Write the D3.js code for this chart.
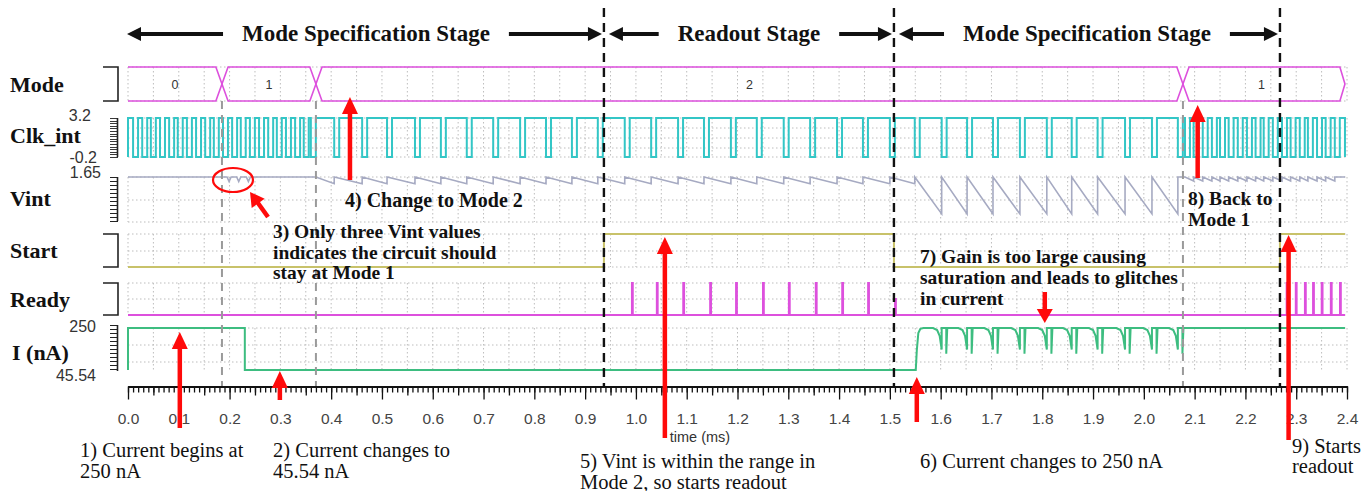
<!DOCTYPE html>
<html><head><meta charset="utf-8">
<script src="https://cdn.jsdelivr.net/npm/d3@7"></script>
<style>body{margin:0;background:#fff}svg{display:block}</style>
</head><body>
<svg id="c" width="1370" height="491"></svg>
<script>
// ---------------- DATA ----------------
const tickValues = [0.0,0.1,0.2,0.3,0.4,0.5,0.6,0.7,0.8,0.9,1.0,1.1,1.2,1.3,1.4,1.5,1.6,1.7,1.8,1.9,2.0,2.1,2.2,2.3,2.4];
const tickLabels = ["0.0","0.1","0.2","0.3","0.4","0.5","0.6","0.7","0.8","0.9","1.0","1.1","1.2","1.3","1.4","1.5","1.6","1.7","1.8","1.9","2.0","2.1","2.2","2.3","2.4"];
const signalNames = ["Mode","Clk_int","Vint","Start","Ready","I (nA)"];
const traceEnd = 2.396;

// Mode bus
const modeValues = ["0","1","2","1"];
const modeBounds = [0, 0.185, 0.370, 2.077, 2.386];

// Clk_int (V): range and low-pulse start times (ms)
const clkRange = [-0.2, 3.2];
const clkLowWidth = 0.0098;
const clkFast1Lows = [0.010,0.028,0.045,0.063,0.081,0.098,0.116,0.134,0.152,0.169,0.187,0.205,0.222,0.240,0.258,0.276,0.293,0.311,0.329,0.346,0.360];
const clkSlowLows = [0.406,0.461,0.510,0.565,0.616,0.667,0.719,0.772,0.823,0.874,0.925,0.978,1.030,1.083,1.134,1.187,1.238,1.291,1.343,1.396,1.447,1.500,1.549,1.602,1.652,1.703,1.756,1.809,1.858,1.909,1.963,2.016,2.067];
const clkFast2Lows = [2.081,2.098,2.116,2.134,2.150,2.167,2.185,2.203,2.220,2.236,2.254,2.272,2.289,2.307,2.323,2.341,2.358,2.376];

// Vint (V)
const vintTop = 1.65;
const vintRange = [1.40, 1.65];
const vintMode1Dips = [0.195, 0.214, 0.233];
const vintDipMin = 1.625;
const vintSmallResets = [0.406,0.461,0.510,0.565,0.616,0.667,0.719,0.772,0.823,0.874,0.925,0.978,1.030,1.083,1.134,1.187,1.238,1.291,1.343,1.396,1.447,1.500,1.549];
const vintSmallMin = 1.613;
const vintBigResets = [1.602,1.652,1.703,1.756,1.809,1.858,1.909,1.963,2.016,2.067];
const vintBigMin = 1.445;
const vintFastResets = [2.098,2.116,2.134,2.150,2.167,2.185,2.203,2.220,2.236,2.254,2.272,2.289,2.307,2.323,2.341,2.358,2.376];
const vintFastMin = 1.628;

// Start (logic) edges: [time, level]
const startEdges = [[0,0],[0.937,1],[1.508,0],[2.268,1]];

// Ready pulses: [time, level]
const readyPulses = [[0.992,1],[1.041,1],[1.093,1],[1.146,1],[1.197,1],[1.250,1],[1.301,1],[1.354,1],[1.406,1],[1.457,1],[1.510,0.5],
  [2.281,1],[2.299,1],[2.317,1],[2.333,1],[2.350,1],[2.368,1],[2.386,1]];
const readyPulseWidth = 0.002;

// I (nA)
const iRange = [45.54, 250];
const iSteps = [[0,45.54],[0,250],[0.230,250],[0.230,45.54],[1.551,45.54],[1.553,140],[1.556,225],[1.560,246],[1.566,250]];
const iGlitchTimes = [1.602,1.652,1.703,1.756,1.809,1.858,1.909,1.963,2.016,2.067];
const iGlitchShape = [[-0.017,250],[-0.009,240],[-0.004,212],[0,145],[0,250],[0.009,250],[0.009,125],[0.011,250]];

// stage labels
const stageBounds = [0, 0.937, 1.508, 2.268];
const stageNames = ["Mode Specification Stage","Readout Stage","Mode Specification Stage"];
const blackDash = [0.937, 1.508, 2.268];
const greyDash = [0.185, 0.370, 2.077];

// ---------------- DRAW ----------------
const svg = d3.select("#c");
const x = d3.scaleLinear().domain([0, 2.4]).range([128, 1347]);
const rows = {
  mode:{top:67,bot:101,h:[67,101]},
  clk:{top:118,bot:157,h:[118,128,138,148,157]},
  vint:{top:177,bot:222,h:[177,200,222]},
  start:{top:234,bot:267,h:[234,251,267]},
  ready:{top:283,bot:315,h:[283,299,315]},
  cur:{top:328,bot:370,h:[328,345,362]}
};
const yClk = d3.scaleLinear().domain(clkRange).range([rows.clk.bot, rows.clk.top]);
const yVint = d3.scaleLinear().domain(vintRange).range([rows.vint.bot, rows.vint.top]);
const yStart = d3.scaleLinear().domain([0,1]).range([rows.start.bot, rows.start.top]);
const yReady = d3.scaleLinear().domain([0,1]).range([rows.ready.bot, rows.ready.top]);
const yI = d3.scaleLinear().domain(iRange).range([rows.cur.bot, rows.cur.top]);

// grid
const gridG = svg.append("g").attr("stroke","#bdbdbd").attr("stroke-width",1).attr("stroke-dasharray","1.5,2.5");
const gridT = d3.range(0, 2.4001, 0.05);
Object.values(rows).forEach(r=>{
  gridG.selectAll(null).data(gridT).enter().append("line")
    .attr("x1",d=>x(d)).attr("x2",d=>x(d)).attr("y1",r.top).attr("y2",r.bot);
  gridG.selectAll(null).data(r.h).enter().append("line")
    .attr("x1",x(0)).attr("x2",x(2.4)).attr("y1",d=>d).attr("y2",d=>d);
});

// left brackets / rulers
const lg = svg.append("g").attr("stroke","#222").attr("stroke-width",1.6).attr("fill","none");
[rows.mode, rows.start, rows.ready].forEach(r=>{
  lg.append("path").attr("d",`M103,${r.top}H118V${r.bot}H103`);
});
function ruler(r, step, sw){
  lg.append("line").attr("x1",117.5).attr("x2",117.5).attr("y1",r.top).attr("y2",r.bot);
  lg.selectAll(null).data(d3.range(r.top, r.bot+0.1, step)).enter().append("line")
    .attr("x1",110).attr("x2",118).attr("y1",d=>Math.round(d)+0.5).attr("y2",d=>Math.round(d)+0.5).attr("stroke-width",sw);
}
ruler(rows.clk, 2.6, 0.9);
ruler({top:177,bot:221}, 4, 1);
ruler({top:325,bot:371}, 4, 1);

// left signal labels
const labY = [92,143,206,258,307,360];
svg.append("g").selectAll("text").data(signalNames).enter().append("text")
  .attr("x",(d,i)=> i===5?12:10).attr("y",(d,i)=>labY[i]).text(d=>d)
  .attr("font-family","Liberation Serif").attr("font-weight","bold").attr("font-size",22).attr("fill","#111");

// y value labels
const yl = svg.append("g").attr("font-family","Liberation Sans").attr("font-size",16).attr("fill","#333").attr("text-anchor","end");
yl.append("text").attr("x",91).attr("y",yClk(clkRange[1])+3).text(clkRange[1].toString());
yl.append("text").attr("x",97).attr("y",yClk(clkRange[0])+6).text(clkRange[0].toString());
yl.append("text").attr("x",101).attr("y",yVint(vintTop)+1).text(vintTop.toString());
yl.append("text").attr("x",96).attr("y",yI(iRange[1])+4).text(iRange[1].toString());
yl.append("text").attr("x",96).attr("y",yI(iRange[0])+11).text(iRange[0].toString());

// Mode bus
const mid = (rows.mode.top+rows.mode.bot)/2, hw = 0.012;
const modeG = svg.append("g").attr("stroke","#dd50dd").attr("stroke-width",1.6).attr("fill","none");
modeValues.forEach((v,i)=>{
  const s = modeBounds[i], e = modeBounds[i+1];
  const last = i===modeValues.length-1;
  const ee = last ? e : e-hw, tip = last ? e+0.010 : e;
  let d;
  if(i===0) d = `M${x(s)},${rows.mode.top}H${x(ee)}L${x(tip)},${mid}L${x(ee)},${rows.mode.bot}H${x(s)}`;
  else d = `M${x(s)},${mid}L${x(s+hw)},${rows.mode.top}H${x(ee)}L${x(tip)},${mid}L${x(ee)},${rows.mode.bot}H${x(s+hw)}Z`;
  modeG.append("path").attr("d",d);
  svg.append("text").attr("x",x((s+e)/2)).attr("y",mid+4.5).attr("text-anchor","middle")
    .attr("font-family","Liberation Sans").attr("font-size",12.5).attr("fill","#333").text(v);
});

function trace(pts, y, color, w){
  svg.append("path").attr("d", d3.line().x(d=>x(d[0])).y(d=>y(d[1]))(pts))
    .attr("fill","none").attr("stroke",color).attr("stroke-width",w).attr("stroke-linejoin","miter");
}

// Clk_int
const clkPts = [[0,clkRange[0]],[0,clkRange[1]]];
[...clkFast1Lows, ...clkSlowLows, ...clkFast2Lows].forEach(s=>{
  clkPts.push([s,clkRange[1]],[s,clkRange[0]],[s+clkLowWidth,clkRange[0]],[s+clkLowWidth,clkRange[1]]);
});
clkPts.push([traceEnd,clkRange[1]],[traceEnd,clkRange[0]]);
trace(clkPts, yClk, "#33c6c6", 2);

// Vint
const vPts = [[0,vintTop]];
vintMode1Dips.forEach(d=>{ vPts.push([d,vintTop],[d+0.004,vintDipMin],[d+0.008,vintTop]); });
vPts.push([0.370,vintTop]);
vintSmallResets.forEach(r=>{ vPts.push([r,vintSmallMin],[r,vintTop]); });
vintBigResets.forEach(r=>{ vPts.push([r,vintBigMin],[r,vintTop]); });
vPts.push([2.081,vintTop]);
vintFastResets.forEach(r=>{ vPts.push([r,vintFastMin],[r,vintTop]); });
vPts.push([traceEnd,vintTop]);
trace(vPts, yVint, "#a6aac2", 1.6);

// Start
const sPts = [];
startEdges.forEach((e,i)=>{ if(i>0) sPts.push([e[0],startEdges[i-1][1]]); sPts.push(e); });
sPts.push([traceEnd, startEdges[startEdges.length-1][1]]);
trace(sPts, yStart, "#c8c26a", 2);

// Ready
const rPts = [[0,0]];
readyPulses.forEach(p=>{ rPts.push([p[0],0],[p[0],p[1]],[p[0]+readyPulseWidth,p[1]],[p[0]+readyPulseWidth,0]); });
rPts.push([traceEnd,0]);
trace(rPts, yReady, "#dd50dd", 1.8);

// I
const iPts = iSteps.slice();
iGlitchTimes.forEach(t=>{ iGlitchShape.forEach(g=>iPts.push([t+g[0], g[1]])); });
iPts.push([traceEnd, 250]);
trace(iPts, yI, "#3dbd80", 2);

// x axis
const axY = 386.5;
const axG = svg.append("g").attr("transform",`translate(0,${axY})`);
axG.call(d3.axisBottom(x).tickValues(d3.range(0,2.4001,0.01)).tickSize(6).tickSizeOuter(0).tickFormat(""));
const axM = svg.append("g").attr("transform",`translate(0,${axY})`);
axM.call(d3.axisBottom(x).tickValues(d3.range(0.05,2.4,0.1)).tickSize(9).tickSizeOuter(0).tickFormat(""));
const axL = svg.append("g").attr("transform",`translate(0,${axY})`);
axL.call(d3.axisBottom(x).tickValues(tickValues).tickSize(13).tickSizeOuter(0).tickFormat((d,i)=>tickLabels[i]));
svg.selectAll(".domain").attr("stroke","#111").attr("stroke-width",1.8);
svg.selectAll(".tick line").attr("stroke","#111").attr("stroke-width",1.3);
axL.selectAll("text").attr("y",37).attr("dy",0).attr("font-family","Liberation Sans").attr("font-size",15.5).attr("fill","#444");
svg.append("text").attr("x",700).attr("y",442).attr("text-anchor","middle").attr("font-family","Liberation Sans")
  .attr("font-size",14.5).attr("fill","#333").text("time (ms)");

// dashed verticals
svg.append("g").selectAll("line").data(greyDash).enter().append("line")
  .attr("x1",d=>x(d)).attr("x2",d=>x(d)).attr("y1",101).attr("y2",386)
  .attr("stroke","#9a9a9a").attr("stroke-width",2).attr("stroke-dasharray","8,6");
svg.append("g").selectAll("line").data(blackDash).enter().append("line")
  .attr("x1",d=>x(d)).attr("x2",d=>x(d)).attr("y1",8).attr("y2",386)
  .attr("stroke","#111").attr("stroke-width",2.4).attr("stroke-dasharray","9,6");

// arrow helper
function arrow(x1,y1,x2,y2,color,w,hl,hwid){
  const a = Math.atan2(y2-y1,x2-x1), c=Math.cos(a), s=Math.sin(a);
  const bx = x2 - hl*c, by = y2 - hl*s;
  svg.append("line").attr("x1",x1).attr("y1",y1).attr("x2",bx+c).attr("y2",by+s).attr("stroke",color).attr("stroke-width",w);
  svg.append("path").attr("d",`M${x2},${y2}L${bx - hwid*s},${by + hwid*c}L${bx + hwid*s},${by - hwid*c}Z`).attr("fill",color);
}

// stage labels + arrows
const stY = 34;
stageNames.forEach((n,i)=>{
  const a = x(stageBounds[i]), b = x(stageBounds[i+1]);
  const t = svg.append("text").attr("x",(a+b)/2).attr("y",stY+7).attr("text-anchor","middle")
    .attr("font-family","Liberation Serif").attr("font-weight","bold").attr("font-size",23).attr("fill","#111").text(n);
  const bb = t.node().getBBox();
  arrow(bb.x-19, stY, a+ (i===0? -1:5), stY, "#111", 4, 14, 7);
  arrow(bb.x+bb.width+19, stY, b-2, stY, "#111", 4, 14, 7);
});

// red annotation arrows
const red = "#ff0a0a";
arrow(x(0.102),428,x(0.102),332,red,4.5,17,8);
arrow(x(0.299),400,x(0.299),371,red,4.5,17,8);
arrow(268,217,250,192,red,4.5,14,8);
arrow(x(0.437),180,x(0.437),97,red,4.5,17,8);
arrow(x(1.057),438,x(1.057),237,red,4.5,17,8);
arrow(x(1.553),422,x(1.553),377,red,4.5,17,8);
arrow(x(1.805),292,x(1.805),323,red,4.5,14,8);
arrow(x(2.106),178,x(2.106),105,red,4.5,17,8);
arrow(x(2.285),440,x(2.285),235,red,4.5,17,8);
svg.append("ellipse").attr("cx",233).attr("cy",180).attr("rx",20).attr("ry",12)
  .attr("fill","none").attr("stroke",red).attr("stroke-width",2.2);

// annotation texts
function note(lines, x0, y0, lh, bold, size){
  const t = svg.append("text").attr("font-family","Liberation Serif").attr("font-size",size)
    .attr("font-weight",bold?"bold":"normal").attr("fill","#111");
  lines.forEach((l,i)=>t.append("tspan").attr("x",x0).attr("y",y0+i*lh).text(l));
}
note(["4) Change to Mode 2"],345,207,21,true,20);
note(["3) Only three Vint values","indicates the circuit should","stay at Mode 1"],273,238,20.5,true,19.5);
note(["8) Back to","Mode 1"],1188,205,21,true,19.5);
note(["7) Gain is too large causing","saturation and leads to glitches","in current"],920,263,21,true,19.5);
note(["1) Current begins at","250 nA"],80,457,21,false,20.5);
note(["2) Current changes to","45.54 nA"],273,457,21,false,20.5);
note(["5) Vint is within the range in","Mode 2, so starts readout"],580,468,20.5,false,20.5);
note(["6) Current changes to 250 nA"],920,468,21,false,20.5);
note(["9) Starts","readout"],1292,453,20,false,20.5);
</script>
</body></html>
